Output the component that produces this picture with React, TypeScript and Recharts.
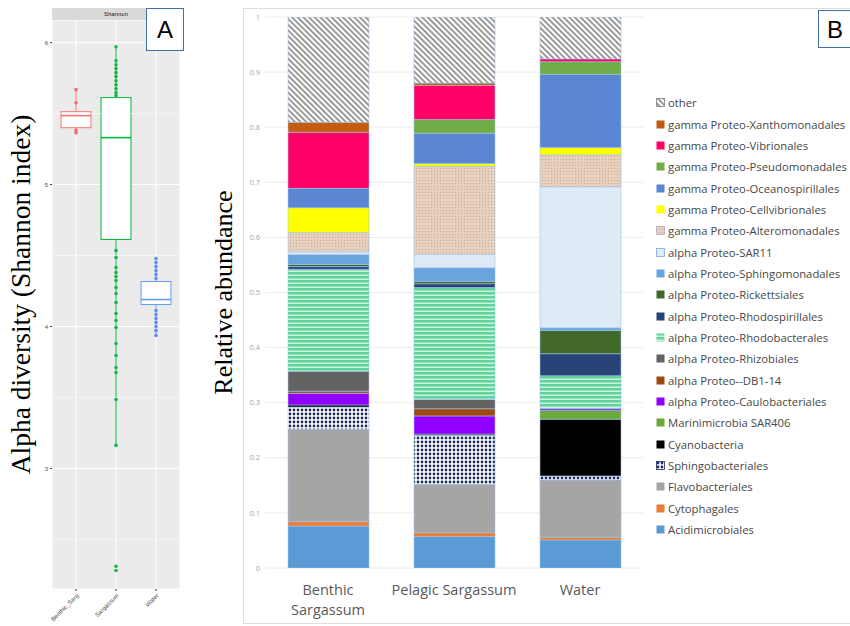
import React from 'react';
import {
  ComposedChart,
  BarChart,
  Bar,
  Scatter,
  XAxis,
  YAxis,
  CartesianGrid,
  ReferenceLine,
  Legend,
  Label,
} from 'recharts';

// ---------------- Panel A data (Shannon index) ----------------
const diversityGroups = ['Benthic_Sarg', 'Sargassum', 'Water'];
const diversityQ1 = [5.401, 4.613, 4.155];
const diversityMedian = [5.486, 5.331, 4.19];
const diversityQ3 = [5.514, 5.613, 4.317];
const diversityWhiskerLow = [5.366, 3.162, 3.937];
const diversityWhiskerHigh = [5.669, 5.972, 4.479];
const benthicSargPoints = [5.669, 5.577, 5.385, 5.366];
const sargassumPoints = [
  5.972, 5.873, 5.845, 5.817, 5.789, 5.761, 5.732, 5.704, 5.676, 5.648, 5.627,
  4.535, 4.486, 4.415, 4.38, 4.352, 4.324, 4.275, 4.232, 4.169, 4.092, 4.042,
  3.993, 3.88, 3.796, 3.711, 3.676, 3.486, 3.162, 2.28, 2.31,
];
const waterPoints = [4.479, 4.451, 4.423, 4.394, 4.366, 4.338, 4.113, 4.085, 4.056, 4.028, 4.0, 3.972, 3.937];
const diversityTicks = [3, 4, 5, 6];
const diversityMinorTicks = [2.5, 3.5, 4.5, 5.5];

// ---------------- Panel B data (relative abundance) ----------------
const sites = ['Benthic Sargassum', 'Pelagic Sargassum', 'Water'];
const siteTickLines = [['Benthic', 'Sargassum'], ['Pelagic Sargassum'], ['Water']];
const abundanceTicks = [0, 0.1, 0.2, 0.3, 0.4, 0.5, 0.6, 0.7, 0.8, 0.9, 1];

const acidimicrobiales = [0.076, 0.057, 0.051];
const cytophagales = [0.008, 0.007, 0.005];
const flavobacteriales = [0.168, 0.088, 0.104];
const sphingobacteriales = [0.04, 0.089, 0.007];
const cyanobacteria = [0.004, 0.002, 0.103];
const marinimicrobia = [0, 0, 0.016];
const caulobacterales = [0.021, 0.033, 0.003];
const db114 = [0.004, 0.013, 0];
const rhizobiales = [0.036, 0.017, 0];
const rhodobacterales = [0.185, 0.203, 0.06];
const rhodospirillales = [0.005, 0.007, 0.04];
const rickettsiales = [0.004, 0.004, 0.042];
const sphingomonadales = [0.018, 0.025, 0.005];
const sar11 = [0.005, 0.024, 0.256];
const alteromonadales = [0.035, 0.16, 0.058];
const cellvibrionales = [0.045, 0.005, 0.013];
const oceanospirillales = [0.035, 0.055, 0.133];
const pseudomonadales = [0, 0.025, 0.023];
const vibrionales = [0.102, 0.062, 0.005];
const xanthomonadales = [0.018, 0.004, 0];
const other = [0.191, 0.12, 0.076];

// series in stacking order (bottom -> top)
const series = [
  { key: 'acid', name: 'Acidimicrobiales', values: acidimicrobiales, fill: '#5b9bd5' },
  { key: 'cyto', name: 'Cytophagales', values: cytophagales, fill: '#ed7d31' },
  { key: 'flavo', name: 'Flavobacteriales', values: flavobacteriales, fill: '#a5a5a5' },
  { key: 'sphb', name: 'Sphingobacteriales', values: sphingobacteriales, fill: 'url(#pSphingo)' },
  { key: 'cyano', name: 'Cyanobacteria', values: cyanobacteria, fill: '#000000' },
  { key: 'marini', name: 'Marinimicrobia SAR406', values: marinimicrobia, fill: '#6aaa3a' },
  { key: 'caulo', name: 'alpha Proteo-Caulobacteriales', values: caulobacterales, fill: '#8f00ff' },
  { key: 'db', name: 'alpha Proteo--DB1-14', values: db114, fill: '#9e480e' },
  { key: 'rhizo', name: 'alpha Proteo-Rhizobiales', values: rhizobiales, fill: '#636363' },
  { key: 'rhodob', name: 'alpha Proteo-Rhodobacterales', values: rhodobacterales, fill: 'url(#pRhodo)' },
  { key: 'rhodos', name: 'alpha Proteo-Rhodospirillales', values: rhodospirillales, fill: '#264478' },
  { key: 'ricke', name: 'alpha Proteo-Rickettsiales', values: rickettsiales, fill: '#43682b' },
  { key: 'sphm', name: 'alpha Proteo-Sphingomonadales', values: sphingomonadales, fill: '#6aa4de' },
  { key: 'sar11', name: 'alpha Proteo-SAR11', values: sar11, fill: '#deebf7' },
  { key: 'altero', name: 'gamma Proteo-Alteromonadales', values: alteromonadales, fill: 'url(#pAltero)' },
  { key: 'cellv', name: 'gamma Proteo-Cellvibrionales', values: cellvibrionales, fill: '#ffff00' },
  { key: 'ocean', name: 'gamma Proteo-Oceanospirillales', values: oceanospirillales, fill: '#5a86d3' },
  { key: 'pseudo', name: 'gamma Proteo-Pseudomonadales', values: pseudomonadales, fill: '#70ad47' },
  { key: 'vibrio', name: 'gamma Proteo-Vibrionales', values: vibrionales, fill: '#ff0066' },
  { key: 'xantho', name: 'gamma Proteo-Xanthomonadales', values: xanthomonadales, fill: '#c55a11' },
  { key: 'other', name: 'other', values: other, fill: 'url(#pOther)' },
];

const abundanceRows = sites.map((site, i) => {
  const row: Record<string, any> = { site };
  series.forEach((s) => {
    row[s.key] = s.values[i];
  });
  return row;
});

const boxRows = diversityGroups.map((g, i) => ({
  x: i + 1,
  group: g,
  box: [diversityQ1[i], diversityQ3[i]],
  q1: diversityQ1[i],
  q3: diversityQ3[i],
  median: diversityMedian[i],
  low: diversityWhiskerLow[i],
  high: diversityWhiskerHigh[i],
}));

const boxColors = ['#f8766d', '#00ba38', '#619cff'];
const pointColors = ['#f06a6a', '#19b34a', '#5d8ef0'];

const pointSets = [benthicSargPoints, sargassumPoints, waterPoints].map((pts, i) =>
  pts.map((v) => ({ x: i + 1, v }))
);

const BoxShape = (props: any) => {
  const { x, y, width, height, payload, index } = props;
  if (!payload || !height) return null;
  const color = boxColors[index] || '#000';
  const k = height / (payload.q3 - payload.q1);
  const yv = (v: number) => y + (payload.q3 - v) * k;
  const cx = x + width / 2;
  return (
    <g>
      <line x1={cx} x2={cx} y1={yv(payload.high)} y2={y} stroke={color} strokeWidth={1} />
      <line x1={cx} x2={cx} y1={y + height} y2={yv(payload.low)} stroke={color} strokeWidth={1} />
      <rect x={x} y={y} width={width} height={height} fill="#ffffff" stroke={color} strokeWidth={1} />
      <line x1={x} x2={x + width} y1={yv(payload.median)} y2={yv(payload.median)} stroke={color} strokeWidth={1.6} />
    </g>
  );
};

const YLabelA = (props: any) => {
  const vb = props.viewBox || { x: 0, y: 0, width: 0, height: 0 };
  const cx = vb.x + 30;
  const cy = vb.y + vb.height / 2 - 10;
  return (
    <text
      x={cx}
      y={cy}
      transform={`rotate(-90, ${cx}, ${cy})`}
      textAnchor="middle"
      fontFamily="'Liberation Serif', 'Times New Roman', serif"
      fontSize={27.5}
      fill="#000"
    >
      Alpha diversity (Shannon index)
    </text>
  );
};

const YLabelB = (props: any) => {
  const vb = props.viewBox || { x: 0, y: 0, width: 0, height: 0 };
  const cx = vb.x + 32;
  const cy = vb.y + vb.height / 2;
  return (
    <text
      x={cx}
      y={cy}
      transform={`rotate(-90, ${cx}, ${cy})`}
      textAnchor="middle"
      fontFamily="'Liberation Serif', 'Times New Roman', serif"
      fontSize={26}
      fill="#000"
    >
      Relative abundance
    </text>
  );
};

const SiteTick = (props: any) => {
  const { x, y, index, payload } = props;
  const lines = siteTickLines[index] || [payload && payload.value];
  return (
    <text x={x} y={y} textAnchor="middle" fill="#595959" fontSize={14.5} fontFamily="'Open Sans', sans-serif">
      {lines.map((l: string, i: number) => (
        <tspan key={i} x={x} dy={i === 0 ? 27 : 20}>
          {l}
        </tspan>
      ))}
    </text>
  );
};

const legendIconStroke: Record<string, string> = {
  sar11: '#7fa7d6',
  altero: '#b9a8c8',
  other: '#7f7f7f',
  sphb: '#1f2b5e',
};

const LegendContent = () => (
  <div style={{ fontFamily: "'Open Sans', sans-serif", fontSize: 11.3, color: '#474747' }}>
    {[...series].reverse().map((s) => (
      <div
        key={s.key}
        style={{ height: 21.35, display: 'flex', alignItems: 'center', whiteSpace: 'nowrap' }}
      >
        <svg width={9} height={9} style={{ marginRight: 3, flex: '0 0 auto' }}>
          <rect
            x={0.5}
            y={0.5}
            width={8}
            height={8}
            fill={s.fill}
            stroke={legendIconStroke[s.key] || 'none'}
            strokeWidth={legendIconStroke[s.key] ? 0.8 : 0}
          />
        </svg>
        <span>{s.name}</span>
      </div>
    ))}
  </div>
);

export default function App() {
  return (
    <div
      style={{
        position: 'absolute',
        left: 0,
        top: 0,
        width: 850,
        height: 626,
        background: '#ffffff',
        overflow: 'hidden',
      }}
    >
      <svg width={0} height={0} style={{ position: 'absolute' }}>
        <defs>
          <pattern id="pOther" width="4" height="4" patternUnits="userSpaceOnUse" patternTransform="rotate(-45)">
            <rect width="4" height="4" fill="#ffffff" />
            <rect x="0" y="0" width="1.7" height="4" fill="#8a8a8a" />
          </pattern>
          <pattern id="pAltero" width="3" height="3" patternUnits="userSpaceOnUse">
            <rect width="3" height="3" fill="#e8d0be" />
            <rect x="0" y="0" width="1" height="1" fill="#c9ab95" />
          </pattern>
          <pattern id="pRhodo" width="4" height="4" patternUnits="userSpaceOnUse">
            <rect width="4" height="4" fill="#5ed39a" />
            <rect x="0" y="2.6" width="4" height="1.2" fill="#e6fbef" />
          </pattern>
          <pattern id="pSphingo" width="4" height="4" patternUnits="userSpaceOnUse">
            <rect width="4" height="4" fill="#ffffff" />
            <circle cx="2" cy="2" r="1.4" fill="#1f2b5e" />
          </pattern>
        </defs>
      </svg>

      {/* Panel A */}
      <div style={{ position: 'absolute', left: 0, top: 0 }}>
        <ComposedChart
          width={190}
          height={626}
          data={boxRows}
          margin={{ top: 20, right: 10, bottom: 7, left: 0 }}
        >
          <CartesianGrid fill="#ebebeb" fillOpacity={1} stroke="#ffffff" strokeWidth={1} />
          {diversityMinorTicks.map((t) => (
            <ReferenceLine key={t} y={t} stroke="#ffffff" strokeWidth={0.5} />
          ))}
          <XAxis
            type="number"
            dataKey="x"
            domain={[0.4, 3.6]}
            ticks={[1, 2, 3]}
            allowDataOverflow
            tickFormatter={(v: number) => diversityGroups[v - 1] || ''}
            angle={-45}
            textAnchor="end"
            tick={{ fontSize: 6, fill: '#4d4d4d', fontFamily: "'Liberation Sans', Arial, sans-serif" }}
            tickSize={2}
            tickLine={{ stroke: '#333333' }}
            axisLine={false}
            height={30}
            interval={0}
          />
          <YAxis
            type="number"
            domain={[2.15, 6.16]}
            ticks={diversityTicks}
            allowDataOverflow
            width={52}
            tick={{ fontSize: 6, fill: '#4d4d4d', fontFamily: "'Liberation Sans', Arial, sans-serif" }}
            tickSize={2}
            tickLine={{ stroke: '#333333' }}
            axisLine={false}
          >
            <Label content={<YLabelA />} />
          </YAxis>
          <Bar dataKey="box" barSize={30} shape={<BoxShape />} isAnimationActive={false} />
          {pointSets.map((pts, i) => (
            <Scatter
              key={i}
              data={pts}
              dataKey="v"
              fill={pointColors[i]}
              isAnimationActive={false}
              shape={(p: any) => <circle cx={p.cx} cy={p.cy} r={1.8} fill={pointColors[i]} />}
            />
          ))}
        </ComposedChart>
      </div>

      {/* Facet strip */}
      <div
        style={{
          position: 'absolute',
          left: 52,
          top: 8,
          width: 128,
          height: 12,
          background: '#d9d9d9',
          fontFamily: "'Liberation Sans', Arial, sans-serif",
          fontSize: 6,
          color: '#1a1a1a',
          textAlign: 'center',
          lineHeight: '12px',
        }}
      >
        Shannon
      </div>

      {/* A box */}
      <div
        style={{
          position: 'absolute',
          left: 146,
          top: 8,
          width: 36,
          height: 41,
          border: '1.5px solid #41719c',
          background: '#ffffff',
          fontFamily: "'Liberation Sans', Arial, sans-serif",
          fontSize: 24,
          color: '#000',
          textAlign: 'center',
          lineHeight: '41px',
        }}
      >
        A
      </div>

      {/* Panel B frame */}
      <div
        style={{
          position: 'absolute',
          left: 243,
          top: 8,
          width: 640,
          height: 614,
          border: '1px solid #dedede',
        }}
      />

      {/* Panel B */}
      <div style={{ position: 'absolute', left: 200, top: 0 }}>
        <BarChart
          width={650}
          height={626}
          data={abundanceRows}
          margin={{ top: 17, right: 207, bottom: 8, left: 0 }}
          barCategoryGap={0}
        >
          <CartesianGrid vertical={false} stroke="#ececec" strokeWidth={1} />
          <XAxis
            dataKey="site"
            type="category"
            interval={0}
            tick={<SiteTick />}
            tickLine={false}
            axisLine={false}
            tickSize={0}
            tickMargin={0}
            height={50}
          />
          <YAxis
            type="number"
            domain={[0, 1]}
            ticks={abundanceTicks}
            allowDataOverflow
            width={65}
            tickFormatter={(v: number) => (v === 0 ? '0' : v === 1 ? '1' : v.toFixed(1))}
            tick={{ fontSize: 7.5, fill: '#a6a6a6', fontFamily: "'Open Sans', sans-serif" }}
            tickLine={false}
            axisLine={false}
            tickSize={0}
            tickMargin={5}
          >
            <Label content={<YLabelB />} />
          </YAxis>
          <Legend
            layout="vertical"
            align="center"
            verticalAlign="middle"
            content={() => <LegendContent />}
            wrapperStyle={{ left: 456, top: 92, width: 200, height: 450 }}
          />
          {series.map((s) => (
            <Bar
              key={s.key}
              dataKey={s.key}
              name={s.name}
              stackId="a"
              fill={s.fill}
              stroke="#9dc3e6"
              strokeWidth={0.6}
              barSize={81}
              isAnimationActive={false}
            />
          ))}
        </BarChart>
      </div>

      {/* B box */}
      <div
        style={{
          position: 'absolute',
          left: 818,
          top: 10,
          width: 36,
          height: 38,
          border: '1.5px solid #41719c',
          background: '#ffffff',
          fontFamily: "'Liberation Sans', Arial, sans-serif",
          fontSize: 24,
          color: '#000',
          textAlign: 'left',
          lineHeight: '38px',
          paddingLeft: 8,
          boxSizing: 'border-box',
        }}
      >
        B
      </div>
    </div>
  );
}
